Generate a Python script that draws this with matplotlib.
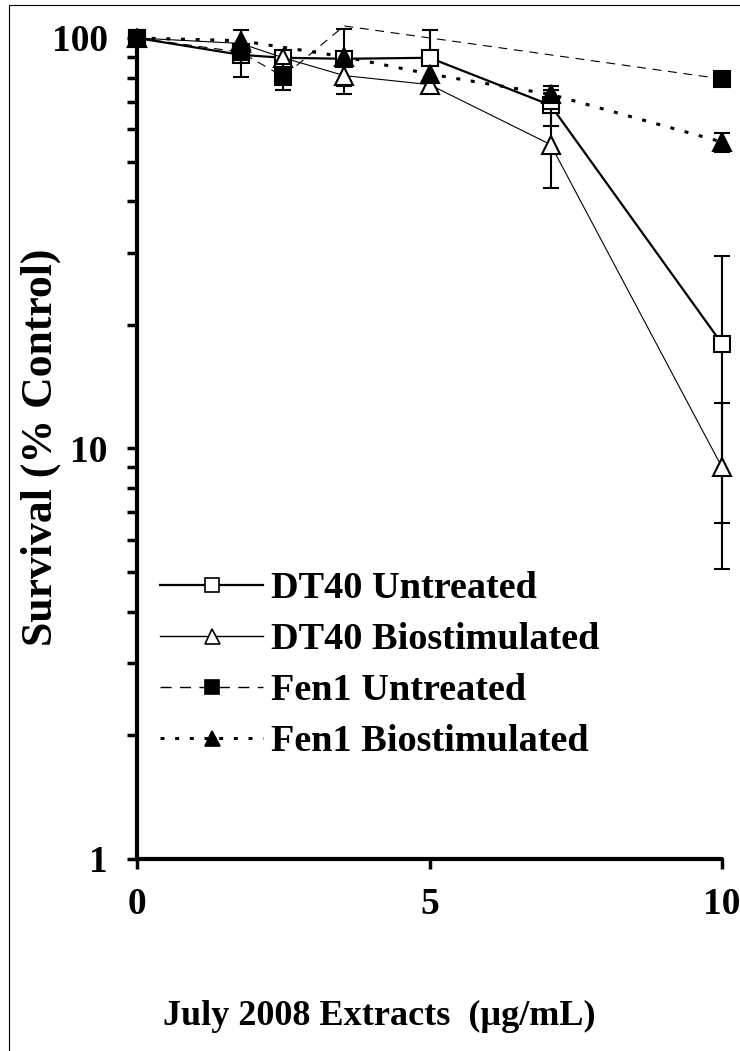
import matplotlib.pyplot as plt
import matplotlib.patches as mpatches
from matplotlib.lines import Line2D
import numpy as np

plt.rcParams['font.family'] = ['Liberation Serif', 'DejaVu Serif']
plt.rcParams['font.weight'] = 'bold'

# concentrations (ug/mL)
x_all = [0, 1.77, 2.5, 3.54, 5, 7.07, 10]

dt40_untr = [100, 91, 89.5, 89, 89.5, 68.6, 18.0]
dt40_untr_err = [0, 0, 0, 16, 15, 7.6, 11.4]

dt40_bio = [100, 97, 89.5, 81, 77, 55, 9.0]
dt40_bio_err = [0, 0, 0, 4.6, 0, 12, 3.9]

fen1_untr_x = [0, 1.77, 2.5, 3.54, 10]
fen1_untr = [100, 92.4, 80.5, 107, 79.5]
fen1_untr_err = [0, 12, 6, 0, 0]

fen1_bio_x = [0, 1.77, 3.54, 5, 7.07, 10]
fen1_bio = [100, 98.5, 90, 81.7, 72.9, 55.8]
fen1_bio_err = [0, 0, 0, 0, 2, 3]

labels = ['DT40 Untreated', 'DT40 Biostimulated', 'Fen1 Untreated', 'Fen1 Biostimulated']
xticks = [0, 5, 10]
yticks = [1, 10, 100]

W, H = 740, 1051
fig = plt.figure(figsize=(W / 100, H / 100), dpi=100)
ax = fig.add_axes([137 / W, 1 - 859 / H, 585 / W, 821 / H])

series = [
    (x_all, dt40_untr, dt40_untr_err, dict(ls='-', lw=1.6, marker='s', mfc='white', ms=12)),
    (x_all, dt40_bio, dt40_bio_err, dict(ls='-', lw=0.8, marker='^', mfc='white', ms=13.5)),
    (fen1_untr_x, fen1_untr, fen1_untr_err, dict(ls=(0, (8, 6)), lw=0.8, marker='s', mfc='black', ms=12)),
    (fen1_bio_x, fen1_bio, fen1_bio_err, dict(ls=(0, (1.3, 3.5)), lw=2.2, marker='^', mfc='black', ms=13.5)),
]

handles = []
for i, (xs, ys, es, st) in enumerate(series):
    xs = np.array(xs, float)
    ys = np.array(ys, float)
    es = np.array(es, float)
    z = 3 + i
    # line (not clipped, like the original)
    ax.plot(xs, ys, color='black', ls=st['ls'], lw=st['lw'], clip_on=False, zorder=z)
    # error bars
    m = es > 0
    if m.any():
        ax.errorbar(xs[m], ys[m], yerr=es[m], fmt='none', ecolor='black', elinewidth=1.5,
                    capsize=5.5, capthick=1.5, clip_on=False, zorder=z)
    # markers only where the point lies inside the axis range
    ym = np.where(ys <= 100, ys, np.nan)
    ax.plot(xs, ym, ls='none', marker=st['marker'], ms=st['ms'], mfc=st['mfc'], mec='black',
            mew=1.5, clip_on=False, zorder=z + 0.5)
    handles.append(Line2D([], [], color='black', ls=st['ls'], lw=max(st['lw'], 1.0), marker=st['marker'],
                          ms=st['ms'], mfc=st['mfc'], mec='black', mew=1.2))

ax.set_yscale('log')
ax.set_ylim(1, 100)
ax.set_xlim(0, 10)
ax.set_xticks(xticks)
ax.set_xticklabels([str(t) for t in xticks])
ax.set_yticks(yticks)
ax.set_yticklabels([str(t) for t in yticks])
ax.yaxis.set_minor_formatter(plt.NullFormatter())

for s in ['top', 'right']:
    ax.spines[s].set_visible(False)
for s in ['left', 'bottom']:
    ax.spines[s].set_linewidth(3)
    ax.spines[s].set_capstyle('round')

ax.tick_params(axis='y', which='both', direction='out', length=7, width=2.5, labelsize=27, pad=14)
ax.tick_params(axis='x', which='major', direction='out', length=7, width=2.5, labelsize=27, pad=13)
for t in ax.get_xticklabels() + ax.get_yticklabels():
    t.set_fontweight('bold')

fig.text(41 / W, 1 - 447 / H, 'Survival (% Control)', rotation=90, ha='center', va='center',
         fontsize=31.5, fontweight='bold')
fig.text(379 / W, 1 - 1016 / H, 'July 2008 Extracts  (\u00b5g/mL)', ha='center', va='center',
         fontsize=26, fontweight='bold')

leg = ax.legend(handles, labels, loc='upper left', bbox_to_anchor=(160 / W, 1 - 571 / H),
                bbox_transform=fig.transFigure, frameon=False, fontsize=27.5, handlelength=2.7,
                handletextpad=0.2, labelspacing=0.42, borderpad=0, borderaxespad=0, markerscale=0.8)
for t in leg.get_texts():
    t.set_fontweight('bold')

# thin frame around the picture
fig.patches.append(mpatches.Rectangle((9 / W, -0.1), 1.2, 1.1 - 5 / H, transform=fig.transFigure,
                                      fill=False, lw=0.8, ec='black'))

fig.savefig('out.png', dpi=100)
